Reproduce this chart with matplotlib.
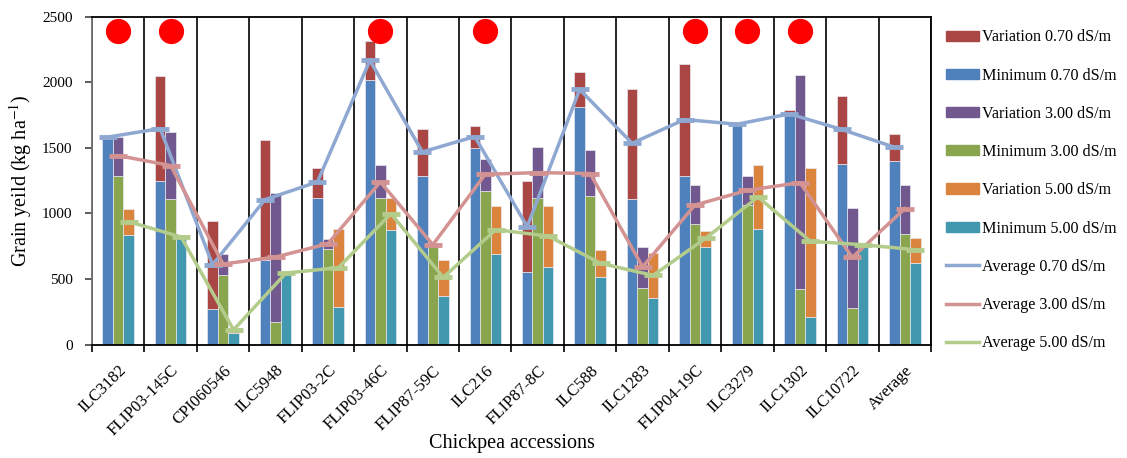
import numpy as np
import matplotlib
matplotlib.use("Agg")
import matplotlib.pyplot as plt
from matplotlib.patches import Patch
from matplotlib.lines import Line2D

plt.rcParams['font.family'] = ['Liberation Serif', 'DejaVu Serif']
plt.rcParams['mathtext.fontset'] = 'stix'

# accessions along the x axis
accessions = ["ILC3182", "FLIP03-145C", "CPI060546", "ILC5948", "FLIP03-2C",
              "FLIP03-46C", "FLIP87-59C", "ILC216", "FLIP87-8C", "ILC588",
              "ILC1283", "FLIP04-19C", "ILC3279", "ILC1302", "ILC10722", "Average"]

# salinity 0.70 dS/m
min_070 = [1570, 1245, 267, 647, 1120, 2014, 1286, 1495, 555, 1810, 1110, 1286, 1680, 1767, 1380, 1400]
var_070 = [12, 805, 672, 914, 229, 303, 354, 173, 690, 270, 835, 853, 13, 20, 517, 209]
avg_070 = [1582, 1647, 609, 1105, 1240, 2167, 1469, 1586, 899, 1945, 1535, 1716, 1680, 1759, 1640, 1505]

# salinity 3.00 dS/m
min_300 = [1286, 1113, 527, 173, 731, 1120, 751, 1169, 1120, 1130, 433, 922, 1067, 423, 280, 845]
var_300 = [300, 506, 160, 986, 73, 252, 10, 246, 385, 354, 313, 298, 219, 1629, 764, 375]
avg_300 = [1441, 1365, 614, 667, 769, 1240, 761, 1298, 1311, 1304, 593, 1064, 1176, 1235, 664, 1036]

# salinity 5.00 dS/m
min_500 = [833, 812, 87, 540, 288, 873, 372, 690, 593, 517, 354, 746, 881, 211, 756, 621]
var_500 = [200, 8, 20, 5, 593, 247, 270, 364, 461, 201, 343, 117, 491, 1138, 20, 194]
avg_500 = [937, 820, 112, 545, 586, 998, 512, 876, 827, 619, 527, 810, 1125, 787, 761, 723]

# accessions marked with a red dot
marked = [0, 1, 5, 7, 11, 12, 13]

c_var070, c_min070 = "#AA4643", "#4F81BD"
c_var300, c_min300 = "#71588F", "#89A54E"
c_var500, c_min500 = "#DB843D", "#4198AF"
c_avg070, c_avg300, c_avg500 = "#8EA8D2", "#D39392", "#B3CC8C"

fig = plt.figure(figsize=(11.27, 4.58), dpi=100)
ax = fig.add_axes([0.0816, 0.2478, 0.7445, 0.7157])

x = np.arange(len(accessions))
w = 0.2
edge = dict(edgecolor="#E8E8F0", linewidth=0.5)

# stacked bars: minimum at the bottom, variation on top
ax.bar(x - w, min_070, w, color=c_min070, zorder=2, **edge)
ax.bar(x - w, var_070, w, bottom=min_070, color=c_var070, zorder=2, **edge)
ax.bar(x, min_300, w, color=c_min300, zorder=2, **edge)
ax.bar(x, var_300, w, bottom=min_300, color=c_var300, zorder=2, **edge)
ax.bar(x + w, min_500, w, color=c_min500, zorder=2, **edge)
ax.bar(x + w, var_500, w, bottom=min_500, color=c_var500, zorder=2, **edge)

# average lines, one point above each bar
for dx, vals, col in [(-w, avg_070, c_avg070), (0, avg_300, c_avg300), (w, avg_500, c_avg500)]:
    ax.plot(x + dx, vals, color=col, lw=2.5, marker="_", ms=13, mew=3.5, zorder=4)

# red dots for marked accessions
ax.scatter(x[marked], [2390] * len(marked), s=330, color="#FF0000", zorder=5, linewidths=0)

ax.set_xlim(-0.5, len(accessions) - 0.5)
ax.set_ylim(0, 2500)
ax.set_yticks(np.arange(0, 2501, 500))

# separators between accessions, labels in the middle
ax.set_xticks(np.arange(len(accessions) + 1) - 0.5)
ax.set_xticklabels([])
ax.set_xticks(x, minor=True)
ax.set_xticklabels(accessions, minor=True, rotation=45, ha="right",
                   rotation_mode="anchor", fontsize=12)
ax.tick_params(axis="x", which="minor", length=0, pad=13)
ax.tick_params(axis="x", which="major", length=5, width=1.2, direction="out")
ax.tick_params(axis="y", length=5, width=1.2, labelsize=11, pad=9, color="#404040")
ax.grid(axis="x", which="major", color="black", lw=1.2, zorder=1)

for s in ax.spines.values():
    s.set_color("black")
    s.set_linewidth(1.3)
ax.spines["left"].set_color("#707070")

ax.set_ylabel("Grain yeild (kg ha$^{-1}$)", fontsize=14.5, labelpad=6)
ax.set_xlabel("Chickpea accessions", fontsize=14.5, labelpad=-4)

handles = [
    Patch(color=c_var070, label="Variation 0.70 dS/m"),
    Patch(color=c_min070, label="Minimum 0.70 dS/m"),
    Patch(color=c_var300, label="Variation 3.00 dS/m"),
    Patch(color=c_min300, label="Minimum 3.00 dS/m"),
    Patch(color=c_var500, label="Variation 5.00 dS/m"),
    Patch(color=c_min500, label="Minimum 5.00 dS/m"),
    Line2D([], [], color=c_avg070, lw=2.5, label="Average 0.70 dS/m"),
    Line2D([], [], color=c_avg300, lw=2.5, label="Average 3.00 dS/m"),
    Line2D([], [], color=c_avg500, lw=2.5, label="Average 5.00 dS/m"),
]
fig.legend(handles=handles, loc="upper left", bbox_to_anchor=(0.834, 0.95),
           frameon=False, fontsize=11.6, handlelength=2.0, handleheight=0.6,
           labelspacing=1.38, handletextpad=0.2, borderaxespad=0)

fig.savefig("out.png", dpi=100)
